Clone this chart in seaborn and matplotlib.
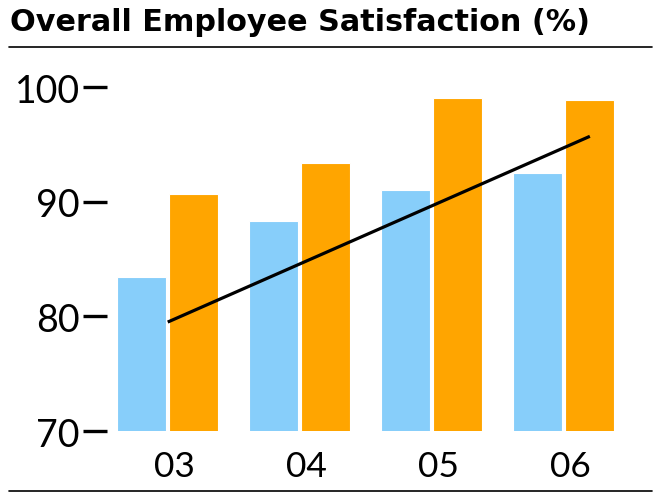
import numpy as np
import pandas as pd
import matplotlib
matplotlib.use("Agg")
import matplotlib.pyplot as plt
import matplotlib.transforms as mtrans
from matplotlib.lines import Line2D
import seaborn as sns

years = ["03", "04", "05", "06"]
series_a = [83.4, 88.3, 91.0, 92.5]   # light blue
series_b = [90.7, 93.4, 99.0, 98.9]   # orange
trend_vals = [79.5, 95.7]             # black trend line, 03 -> 06
y_ticks = [70, 80, 90, 100]
title = "Overall Employee Satisfaction (%)"

BLUE = "#87CEFA"
ORANGE = "#FFA500"

sns.set_style("white")
plt.rcParams["font.family"] = ["Lato", "DejaVu Sans"]
plt.rcParams["text.color"] = "black"
plt.rcParams["xtick.color"] = "black"
plt.rcParams["ytick.color"] = "black"

df = pd.DataFrame({
    "year": years * 2,
    "series": ["a"] * len(years) + ["b"] * len(years),
    "value": series_a + series_b,
})

fig = plt.figure(figsize=(6.62, 5.02), dpi=100)
ax = fig.add_axes([107 / 662, 1 - 432 / 502, 536 / 662, 344 / 502])

width = 0.79
gap = 0.06
sns.barplot(data=df, x="year", y="value", hue="series", palette=[BLUE, ORANGE],
            width=width, gap=gap, saturation=1, edgecolor="white", linewidth=0.8,
            legend=False, ax=ax, errorbar=None)

# trend line: from middle of first group to centre of last orange bar
slot = width / 2
ax.plot([0, len(years) - 1 + slot / 2], trend_vals, color="black", lw=2.3,
        solid_capstyle="butt", zorder=5)

ax.set_ylim(70, 100)
ax.set_xlim(-0.46, 3.6)
ax.set_yticks(y_ticks)
ax.set_yticklabels([str(v) for v in y_ticks])
ax.set_xlabel("")
ax.set_ylabel("")
for s in ax.spines.values():
    s.set_visible(False)

ax.tick_params(axis="y", length=17.3, width=2.4, pad=2.2,
               labelsize=27, left=True)
ax.tick_params(axis="x", length=0, pad=14, labelsize=25.5)
shift = mtrans.ScaledTranslation(7 / 100, 0, fig.dpi_scale_trans)
for lab in ax.get_xticklabels():
    lab.set_transform(lab.get_transform() + shift)

fig.text(10 / 662, 1 - 31 / 502, title, fontsize=21.8, fontweight="bold",
         family=["DejaVu Sans"], ha="left", va="baseline")
fig.add_artist(Line2D([9 / 662, 652 / 662], [1 - 47.5 / 502] * 2,
                      color="black", lw=1.2, transform=fig.transFigure))
fig.add_artist(Line2D([9 / 662, 652 / 662], [1 - 492 / 502] * 2,
                      color="black", lw=1.2, transform=fig.transFigure))

fig.savefig("out.png", dpi=100)
